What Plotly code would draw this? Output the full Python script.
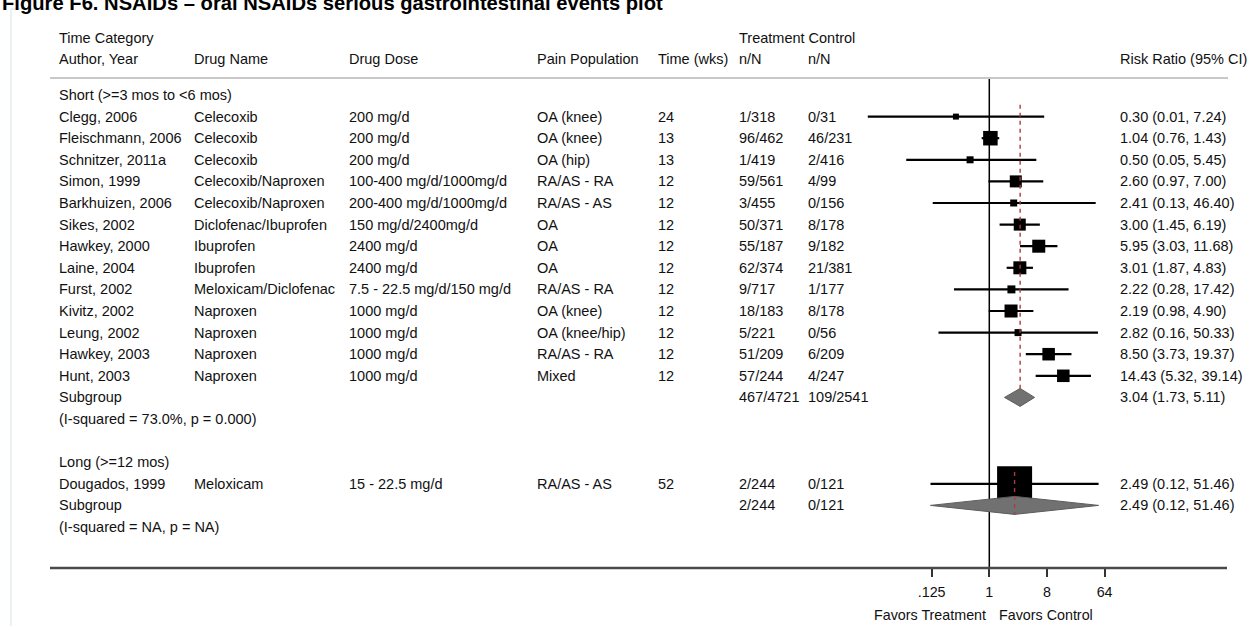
import math
import plotly.graph_objects as go

# ---------------- data ----------------
title_text = "Figure F6. NSAIDs \u2013 oral NSAIDs serious gastrointestinal events plot"

group_labels = ["Short (>=3 mos to <6 mos)", "Long (>=12 mos)"]
group_sizes = [13, 1]

authors = ["Clegg, 2006", "Fleischmann, 2006", "Schnitzer, 2011a", "Simon, 1999",
           "Barkhuizen, 2006", "Sikes, 2002", "Hawkey, 2000", "Laine, 2004",
           "Furst, 2002", "Kivitz, 2002", "Leung, 2002", "Hawkey, 2003", "Hunt, 2003",
           "Dougados, 1999"]
drug_names = ["Celecoxib", "Celecoxib", "Celecoxib", "Celecoxib/Naproxen",
              "Celecoxib/Naproxen", "Diclofenac/Ibuprofen", "Ibuprofen", "Ibuprofen",
              "Meloxicam/Diclofenac", "Naproxen", "Naproxen", "Naproxen", "Naproxen",
              "Meloxicam"]
drug_doses = ["200 mg/d", "200 mg/d", "200 mg/d", "100-400 mg/d/1000mg/d",
              "200-400 mg/d/1000mg/d", "150 mg/d/2400mg/d", "2400 mg/d", "2400 mg/d",
              "7.5 - 22.5 mg/d/150 mg/d", "1000 mg/d", "1000 mg/d", "1000 mg/d",
              "1000 mg/d", "15 - 22.5 mg/d"]
pain_populations = ["OA (knee)", "OA (knee)", "OA (hip)", "RA/AS - RA", "RA/AS - AS",
                    "OA", "OA", "OA", "RA/AS - RA", "OA (knee)", "OA (knee/hip)",
                    "RA/AS - RA", "Mixed", "RA/AS - AS"]
time_wks = ["24", "13", "13", "12", "12", "12", "12", "12", "12", "12", "12", "12", "12", "52"]
treatment_nN = ["1/318", "96/462", "1/419", "59/561", "3/455", "50/371", "55/187",
                "62/374", "9/717", "18/183", "5/221", "51/209", "57/244", "2/244"]
control_nN = ["0/31", "46/231", "2/416", "4/99", "0/156", "8/178", "9/182", "21/381",
              "1/177", "8/178", "0/56", "6/209", "4/247", "0/121"]
risk_ratio = [0.30, 1.04, 0.50, 2.60, 2.41, 3.00, 5.95, 3.01, 2.22, 2.19, 2.82, 8.50, 14.43, 2.49]
ci_low = [0.0125, 0.76, 0.05, 0.97, 0.13, 1.45, 3.03, 1.87, 0.28, 0.98, 0.16, 3.73, 5.32, 0.12]
ci_high = [7.24, 1.43, 5.45, 7.00, 46.40, 6.19, 11.68, 4.83, 17.42, 4.90, 50.33, 19.37, 39.14, 51.46]
box_weight = [2.9, 17.2, 4.0, 11.8, 4.0, 11.8, 13.8, 13.8, 5.2, 13.8, 4.0, 12.8, 12.8, 100.0]

subgroup_rr = [3.04, 2.49]
subgroup_low = [1.73, 0.12]
subgroup_high = [5.11, 51.46]
subgroup_treatment = ["467/4721", "2/244"]
subgroup_control = ["109/2541", "0/121"]
subgroup_het = ["(I-squared = 73.0%, p = 0.000)", "(I-squared = NA, p = NA)"]

axis_ticks = [0.125, 1, 8, 64]
axis_tick_labels = [".125", "1", "8", "64"]

# ---------------- layout constants (pixels) ----------------
W, H = 1254, 626
ROW0_PX, ROW_PX = 95.0, 21.6          # centre of first row, row pitch
X1_PX, PX_PER_LOG2 = 989.3, 19.22     # position of RR=1, scale
PX_PER_LOG10 = PX_PER_LOG2 / math.log10(2)
HEADER_LINE_PX, AXIS_LINE_PX = 78, 568
COLS = dict(author=57, drug=192, dose=347, pop=535, wks=656, trt=737, ctl=806, rr=1118)
FONT = "Liberation Sans, Arial, sans-serif"
FS = 14.5
TXT = "#111111"


def row_of_px(px):
    return (px - ROW0_PX) / ROW_PX


def px_x(px):
    return px / W


annotations = []


def text(col_px, row, s, size=FS, anchor="left"):
    annotations.append(dict(x=px_x(col_px), xref="paper", y=row, yref="y", text=s,
                            showarrow=False, xanchor=anchor, yanchor="middle",
                            font=dict(family=FONT, size=size, color=TXT)))


# headers
text(COLS["author"], row_of_px(38), "Time Category")
text(COLS["trt"], row_of_px(38), "Treatment Control")
hdr_row = row_of_px(59)
for key, lab in [("author", "Author, Year"), ("drug", "Drug Name"), ("dose", "Drug Dose"),
                 ("pop", "Pain Population"), ("wks", "Time (wks)"), ("trt", "n/N"),
                 ("ctl", "n/N"), ("rr", "Risk Ratio (95% CI)")]:
    text(COLS[key], hdr_row, lab)

fig = go.Figure()

# reference line at RR = 1
fig.add_trace(go.Scatter(x=[1, 1], y=[row_of_px(HEADER_LINE_PX), row_of_px(AXIS_LINE_PX)],
                         mode="lines", line=dict(color="black", width=1.5),
                         hoverinfo="skip", showlegend=False))

row = 0
study_rows = []
sub_rows = []
idx = 0
for g, lab in enumerate(group_labels):
    text(COLS["author"], row, lab)
    row += 1
    first = row
    for k in range(group_sizes[g]):
        i = idx
        text(COLS["author"], row, authors[i])
        text(COLS["drug"], row, drug_names[i])
        text(COLS["dose"], row, drug_doses[i])
        text(COLS["pop"], row, pain_populations[i])
        text(COLS["wks"], row, time_wks[i])
        text(COLS["trt"], row, treatment_nN[i])
        text(COLS["ctl"], row, control_nN[i])
        text(COLS["rr"], row, f"{risk_ratio[i]:.2f} ({ci_low[i]:.2f}, {ci_high[i]:.2f})")
        study_rows.append(row)
        idx += 1
        row += 1
    text(COLS["author"], row, "Subgroup")
    text(COLS["trt"], row, subgroup_treatment[g])
    text(COLS["ctl"], row, subgroup_control[g])
    text(COLS["rr"], row, f"{subgroup_rr[g]:.2f} ({subgroup_low[g]:.2f}, {subgroup_high[g]:.2f})")
    sub_rows.append((first, row))
    row += 1
    text(COLS["author"], row, subgroup_het[g])
    row += 2

# CI lines
cx, cy = [], []
for i, r in enumerate(study_rows):
    cx += [ci_low[i], ci_high[i], None]
    cy += [r, r, None]
fig.add_trace(go.Scatter(x=cx, y=cy, mode="lines", line=dict(color="black", width=2.2),
                         hoverinfo="skip", showlegend=False))

# boxes (area proportional to weight)
max_side = 35.0
fig.add_trace(go.Scatter(x=risk_ratio, y=study_rows, mode="markers",
                         marker=dict(symbol="square", color="black", opacity=1,
                                     size=[max_side * math.sqrt(w / 100.0) for w in box_weight],
                                     line=dict(width=0)),
                         hoverinfo="skip", showlegend=False))

# subgroup diamonds and dashed overall lines
half_h = 9.0 / ROW_PX
for g, (first, r) in enumerate(sub_rows):
    fig.add_trace(go.Scatter(
        x=[subgroup_low[g], subgroup_rr[g], subgroup_high[g], subgroup_rr[g], subgroup_low[g]],
        y=[r, r - half_h, r, r + half_h, r], mode="lines", fill="toself",
        fillcolor="#717171", line=dict(color="#5c5c5c", width=1),
        hoverinfo="skip", showlegend=False))
    top = first - 0.55
    bot = r + (half_h if g == 1 else -half_h)
    fig.add_trace(go.Scatter(x=[subgroup_rr[g], subgroup_rr[g]], y=[top, bot], mode="lines",
                             line=dict(color="#b03a3a", width=1.4, dash="4px,4px"),
                             hoverinfo="skip", showlegend=False))

shapes = [
    # header rule
    dict(type="line", xref="paper", yref="y", x0=px_x(50), x1=px_x(1228),
         y0=row_of_px(HEADER_LINE_PX), y1=row_of_px(HEADER_LINE_PX),
         line=dict(color="#c8c8c8", width=2)),
    # axis rule
    dict(type="line", xref="paper", yref="y", x0=px_x(50), x1=px_x(1227),
         y0=row_of_px(AXIS_LINE_PX), y1=row_of_px(AXIS_LINE_PX),
         line=dict(color="#4a4a4a", width=2.5)),
    # faint frame edge at left
    dict(type="line", xref="paper", yref="paper", x0=px_x(11), x1=px_x(11),
         y0=0, y1=1 - 9 / H, line=dict(color="#e4ecee", width=1.5)),
    dict(type="line", xref="paper", yref="paper", x0=px_x(11), x1=px_x(53),
         y0=1 - 9 / H, y1=1 - 9 / H, line=dict(color="#e4ecee", width=1.5)),
]

# bottom captions
annotations.append(dict(x=px_x(988), xref="paper", y=row_of_px(615), yref="y",
                        text="Favors Treatment", showarrow=False, xanchor="right",
                        yanchor="middle", font=dict(family=FONT, size=14.3, color=TXT)))
annotations.append(dict(x=px_x(997), xref="paper", y=row_of_px(615), yref="y",
                        text="Favors Control", showarrow=False, xanchor="left",
                        yanchor="middle", font=dict(family=FONT, size=14.3, color=TXT)))
# title (partly cut off at the top of the page, as in the source image)
annotations.append(dict(x=0.0, xref="paper", y=1 - 3 / H, yref="paper",
                        text="<b>" + title_text + "</b>",
                        showarrow=False, xanchor="left", yanchor="middle",
                        font=dict(family=FONT, size=20.2, color="black")))

x_lo = (0 - X1_PX) / PX_PER_LOG10
x_hi = (W - X1_PX) / PX_PER_LOG10

fig.update_layout(
    width=W, height=H, margin=dict(l=0, r=0, t=0, b=0),
    paper_bgcolor="white", plot_bgcolor="white", showlegend=False,
    xaxis=dict(type="log", range=[x_lo, x_hi], domain=[0, 1], anchor="free",
               position=(H - AXIS_LINE_PX) / H, showgrid=False, zeroline=False,
               showline=False, tickmode="array", tickvals=axis_ticks,
               ticktext=axis_tick_labels, ticks="outside", ticklen=8, tickwidth=1.5,
               tickcolor="#333333", ticklabelstandoff=3,
               tickfont=dict(family=FONT, size=14.3, color=TXT), fixedrange=True),
    yaxis=dict(range=[(H - ROW0_PX) / ROW_PX, -ROW0_PX / ROW_PX], domain=[0, 1],
               showgrid=False, zeroline=False, showline=False, showticklabels=False,
               ticks="", fixedrange=True),
    shapes=shapes, annotations=annotations,
)

fig.write_html("out.html", config={"displayModeBar": False},
               post_script="document.body.style.margin='0px';")
